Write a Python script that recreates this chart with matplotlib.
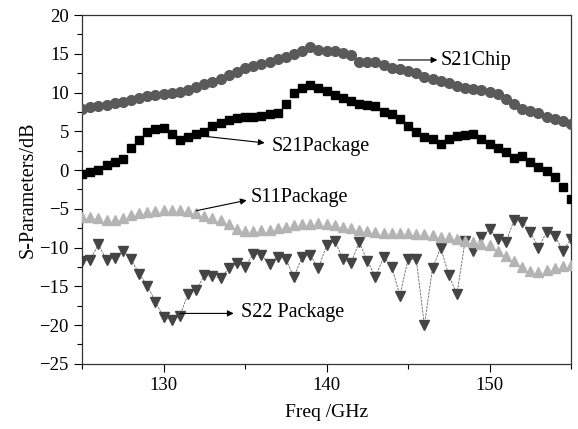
import numpy as np
import matplotlib.pyplot as plt
from matplotlib.ticker import MultipleLocator

plt.rcParams['font.family'] = ['Liberation Serif', 'DejaVu Serif']
plt.rcParams['mathtext.fontset'] = 'stix'

# frequency grid, 0.5 GHz steps
freq = np.arange(125.0, 155.01, 0.5)

s21_chip = [7.9, 8.1, 8.3, 8.4, 8.6, 8.8, 9.0, 9.3, 9.5, 9.7,
            9.8, 10.0, 10.1, 10.3, 10.7, 11.1, 11.4, 11.8, 12.3, 12.7,
            13.1, 13.4, 13.7, 13.9, 14.3, 14.6, 15.0, 15.3, 15.9, 15.5,
            15.3, 15.4, 15.1, 14.8, 14.0, 14.0, 14.0, 13.6, 13.2, 13.0,
            12.8, 12.5, 12.0, 11.7, 11.5, 11.2, 10.9, 10.6, 10.4, 10.3,
            10.1, 9.8, 9.1, 8.5, 7.9, 7.6, 7.4, 6.9, 6.6, 6.3,
            6.0]

s21_pkg = [-0.5, -0.3, 0.0, 0.6, 1.0, 1.4, 2.9, 3.9, 4.85, 5.3,
           5.4, 4.6, 3.9, 4.3, 4.6, 4.9, 5.7, 6.1, 6.5, 6.7,
           6.8, 6.9, 7.0, 7.2, 7.4, 8.5, 10.0, 10.6, 11.0, 10.6,
           10.2, 9.7, 9.3, 8.9, 8.5, 8.4, 8.3, 7.5, 7.2, 6.6,
           5.7, 4.85, 4.2, 4.0, 3.4, 4.0, 4.4, 4.5, 4.6, 4.0,
           3.4, 2.9, 2.3, 1.6, 1.85, 1.0, 0.35, -0.1, -0.95, -2.2,
           -3.7]

s11_pkg = [-6.0, -6.1, -6.2, -6.4, -6.4, -6.2, -5.8, -5.6, -5.4, -5.3,
           -5.2, -5.1, -5.2, -5.3, -5.5, -5.9, -6.2, -6.5, -7.0, -7.6,
           -7.9, -7.9, -7.8, -7.7, -7.5, -7.3, -7.1, -7.0, -6.9, -6.8,
           -6.9, -7.1, -7.3, -7.5, -7.7, -7.9, -8.0, -8.1, -8.1, -8.1,
           -8.1, -8.2, -8.2, -8.4, -8.6, -8.7, -8.9, -9.1, -9.3, -9.5,
           -9.7, -10.4, -11.1, -11.8, -12.5, -13.0, -13.1, -12.9, -12.7, -12.4,
           -12.2]

s22_pkg = [-11.7, -11.6, -9.6, -11.6, -11.3, -10.4, -11.5, -13.4, -14.9, -17.0,
           -19.0, -19.4, -18.8, -16.0, -15.5, -13.6, -13.7, -13.9, -12.7, -12.0,
           -12.5, -10.8, -11.0, -12.1, -11.2, -11.5, -13.8, -11.2, -11.0, -12.7,
           -9.7, -9.1, -11.5, -12.0, -9.3, -11.7, -13.8, -11.2, -12.5, -16.2,
           -11.5, -11.5, -20.0, -12.7, -10.0, -13.6, -16.0, -9.1, -10.4, -8.7,
           -7.6, -8.9, -9.3, -6.5, -6.7, -8.0, -10.0, -8.0, -8.45, -10.4,
           -8.9]

fig = plt.figure(figsize=(5.78, 4.29), dpi=100)
ax = fig.add_axes([0.142, 0.152, 0.846, 0.813])

ax.plot(freq, s22_pkg, color='#666666', lw=0.6, dashes=(3, 1.2),
        marker='v', ms=7.5, mfc='#444444', mec='#444444', zorder=2)
ax.plot(freq, s11_pkg, ls='none', marker='^', ms=7.5,
        mfc='#b4b4b4', mec='#b4b4b4', zorder=3)
ax.plot(freq, s21_pkg, ls='none', marker='s', ms=5.8,
        mfc='black', mec='black', zorder=3)
ax.plot(freq, s21_chip, ls='none', marker='o', ms=7,
        mfc='#5a5a5a', mec='#5a5a5a', zorder=3)

arrow = dict(arrowstyle='-|>', color='black', lw=0.8, mutation_scale=9,
             shrinkA=0, shrinkB=0)
fs = 14.5
ax.annotate('', xy=(146.8, 14.2), xytext=(144.4, 14.2), arrowprops=arrow)
ax.text(147.0, 14.1, 'S21Chip', fontsize=fs, va='center', ha='left')
ax.annotate('', xy=(136.2, 3.5), xytext=(132.3, 4.4), arrowprops=arrow)
ax.text(136.6, 3.0, 'S21Package', fontsize=fs, va='center', ha='left')
ax.annotate('', xy=(135.1, -3.9), xytext=(132.0, -5.25), arrowprops=arrow)
ax.text(135.35, -3.6, 'S11Package', fontsize=fs, va='center', ha='left')
ax.annotate('', xy=(134.3, -18.5), xytext=(131.0, -18.5), arrowprops=arrow)
ax.text(134.75, -18.4, 'S22 Package', fontsize=fs, va='center', ha='left')

ax.set_xlim(125, 155)
ax.set_ylim(-25, 20)
ax.xaxis.set_major_locator(MultipleLocator(10))
ax.xaxis.set_minor_locator(MultipleLocator(5))
ax.yaxis.set_major_locator(MultipleLocator(5))
ax.yaxis.set_minor_locator(MultipleLocator(2.5))
ax.tick_params(which='major', direction='out', length=6, width=0.8,
               labelsize=13.5, top=False, right=False)
ax.tick_params(which='minor', direction='out', length=3.5, width=0.8,
               top=False, right=False)
for sp in ax.spines.values():
    sp.set_linewidth(0.9)
    sp.set_color('#333333')

ax.set_xlabel('Freq /GHz', fontsize=14, labelpad=7)
ax.set_ylabel('S-Parameters/dB', fontsize=14.5, labelpad=1)

fig.savefig('out.png', dpi=100)
